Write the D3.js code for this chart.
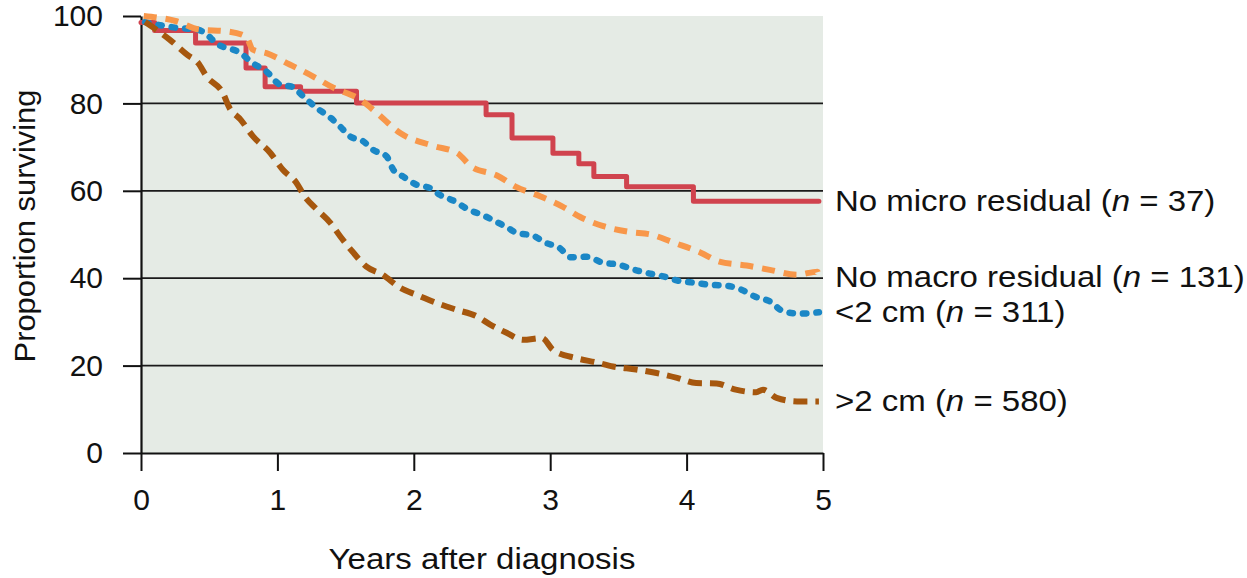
<!DOCTYPE html>
<html>

<head>
  <meta charset="utf-8">
  <title>Survival by residual disease</title>
  <script src="https://cdnjs.cloudflare.com/ajax/libs/d3/7.8.5/d3.min.js"></script>
  <style>
    body {
      margin: 0;
      background: #ffffff;
    }

    svg text {
      font-family: "Liberation Sans", Arial, Helvetica, sans-serif;
      fill: #111;
    }
  </style>
</head>

<body>
  <script>
    // --- data (years, % surviving) ---
    var microYears = [0, 0.10, 0.40, 0.77, 0.91, 1.17, 1.58, 2.53, 2.72, 3.02, 3.21, 3.32, 3.56, 4.05, 4.97];
    var microSurv = [98.5, 96.7, 93.8, 88.1, 83.8, 82.8, 80.1, 77.4, 72.1, 68.6, 66.2, 63.3, 60.9, 57.6, 57.6];

    var macroYears = [0.02, 0.26, 0.43, 0.63, 0.77, 0.82, 0.92, 1.09, 1.26, 1.41, 1.61, 1.73, 1.90, 2.14, 2.32, 2.42,
      2.61, 2.75, 2.93, 3.09, 3.22, 3.39, 3.58, 3.75, 3.90, 4.10, 4.24, 4.44, 4.61, 4.81, 4.96, 4.97];
    var macroSurv = [100, 98.8, 96.9, 96.5, 95.3, 92.3, 91.5, 88.9, 86.2, 83.6, 80.8, 77.8, 73.2, 70.3, 68.6, 65.6,
      63.5, 60.9, 58.7, 56.4, 54.0, 51.9, 50.6, 49.9, 48.2, 45.9, 43.8, 42.9, 41.9, 40.8, 41.5, 39.5];

    var smallYears = [0.03, 0.26, 0.41, 0.47, 0.55, 0.73, 0.82, 0.92, 1.02, 1.11, 1.19, 1.29, 1.39, 1.46, 1.53, 1.63,
      1.70, 1.80, 1.85, 1.92, 2.02, 2.12, 2.19, 2.30, 2.40, 2.50, 2.60, 2.69, 2.76, 2.87, 2.96, 3.07, 3.15, 3.27,
      3.38, 3.50, 3.62, 3.71, 3.83, 3.94, 4.05, 4.17, 4.29, 4.40, 4.50, 4.61, 4.71, 4.83, 4.97];
    var smallSurv = [98.6, 97.3, 96.9, 96.1, 93.8, 91.5, 89.2, 87.3, 84.3, 83.8, 81.6, 78.9, 76.7, 74.7, 72.5, 71.3,
      69.4, 67.9, 64.8, 63.3, 61.4, 60.6, 59.1, 57.6, 55.7, 54.5, 53.0, 51.5, 50.3, 49.8, 48.2, 46.9, 44.8, 44.9,
      43.6, 43.1, 41.9, 41.2, 40.4, 39.4, 39.0, 38.5, 38.3, 37.4, 35.8, 34.7, 32.4, 31.9, 32.2];

    var largeYears = [0.03, 0.21, 0.34, 0.42, 0.48, 0.60, 0.65, 0.73, 0.82, 0.95, 1.04, 1.14, 1.20, 1.29, 1.39, 1.46,
      1.55, 1.65, 1.77, 1.90, 2.02, 2.17, 2.31, 2.46, 2.56, 2.68, 2.80, 2.94, 3.02, 3.19, 3.34, 3.46, 3.63, 3.78,
      3.93, 4.07, 4.22, 4.36, 4.51, 4.56, 4.66, 4.81, 4.97];
    var largeSurv = [98.6, 94.6, 91.1, 89.2, 86.2, 82.4, 78.9, 76.3, 72.5, 68.6, 64.8, 61.8, 58.7, 55.7, 52.6, 49.6,
      46.1, 42.7, 40.8, 37.8, 36.2, 34.3, 32.8, 31.3, 29.4, 27.5, 25.9, 26.3, 23.6, 21.7, 20.7, 19.8, 19.1, 18.3,
      17.2, 16.0, 15.9, 14.5, 13.9, 14.5, 12.6, 11.8, 11.8];

    var xTicks = [0, 1, 2, 3, 4, 5];
    var yTicks = [0, 20, 40, 60, 80, 100];
    var gridValues = [20, 40, 60, 80];

    var seriesNames = ["No micro residual", "No macro residual", "<2 cm", ">2 cm"];
    var seriesN = [37, 131, 311, 580];
    var seriesColors = ["#d0434e", "#f8974a", "#1b87c6", "#a6570e"];

    //--------------------------------

    var W = 1247, H = 578;
    var x = d3.scaleLinear().domain([0, 5]).range([141, 823]);
    var y = d3.scaleLinear().domain([0, 100]).range([453, 16]);

    var svg = d3.select("body").append("svg")
      .attr("width", W)
      .attr("height", H);

    // plot background
    svg.append("rect")
      .attr("x", x(0))
      .attr("y", y(100))
      .attr("width", x(5) - x(0))
      .attr("height", y(0) - y(100))
      .attr("fill", "#e5ebe5");

    // horizontal grid
    svg.selectAll("line.grid").data(gridValues).enter().append("line")
      .attr("class", "grid")
      .attr("x1", x(0))
      .attr("x2", x(5))
      .attr("y1", function (d) { return y(d); })
      .attr("y2", function (d) { return y(d); })
      .attr("stroke", "#1a1a1a")
      .attr("stroke-width", 1.8);

    // axes
    var yAxis = svg.append("g")
      .attr("transform", "translate(" + x(0) + ",0)")
      .call(d3.axisLeft(y).tickValues(yTicks).tickFormat(d3.format("d"))
        .tickSize(18).tickSizeOuter(0).tickPadding(20));
    var xAxis = svg.append("g")
      .attr("transform", "translate(0," + y(0) + ")")
      .call(d3.axisBottom(x).tickValues(xTicks).tickFormat(d3.format("d"))
        .tickSize(18).tickSizeOuter(0).tickPadding(18));

    [xAxis, yAxis].forEach(function (g) {
      g.attr("font-size", 30).attr("font-family", null);
      g.select(".domain").attr("stroke", "#111").attr("stroke-width", 2.2);
      g.selectAll(".tick line").attr("stroke", "#111").attr("stroke-width", 2);
      g.selectAll(".tick text").attr("fill", "#111");
    });

    // axis titles (reference glyphs are a touch wider than Liberation Sans)
    svg.append("text")
      .attr("transform", "translate(482,569) scale(1.1,1)")
      .attr("text-anchor", "middle")
      .attr("font-size", 30)
      .text("Years after diagnosis");

    svg.append("text")
      .attr("transform", "translate(35,226) rotate(-90) scale(1.03,1)")
      .attr("text-anchor", "middle")
      .attr("font-size", 30)
      .text("Proportion surviving");

    // curves
    function pts(xs, ys) {
      return xs.map(function (d, i) { return [d, ys[i]]; });
    }

    var stepLine = d3.line()
      .x(function (d) { return x(d[0]); })
      .y(function (d) { return y(d[1]); })
      .curve(d3.curveStepAfter);

    var smoothLine = d3.line()
      .x(function (d) { return x(d[0]); })
      .y(function (d) { return y(d[1]); })
      .curve(d3.curveMonotoneX);

    var curves = svg.append("g");

    curves.append("path")
      .attr("d", stepLine(pts(microYears, microSurv)))
      .attr("fill", "none")
      .attr("stroke", seriesColors[0])
      .attr("stroke-width", 5)
      .attr("stroke-linecap", "round")
      .attr("stroke-linejoin", "round");

    curves.append("path")
      .attr("d", smoothLine(pts(smallYears, smallSurv)))
      .attr("fill", "none")
      .attr("stroke", seriesColors[2])
      .attr("stroke-width", 6.5)
      .attr("stroke-linecap", "round")
      .attr("stroke-dasharray", "3.5,10");

    curves.append("path")
      .attr("d", smoothLine(pts(largeYears, largeSurv)))
      .attr("fill", "none")
      .attr("stroke", seriesColors[3])
      .attr("stroke-width", 6)
      .attr("stroke-dasharray", "14,8");

    curves.append("path")
      .attr("d", smoothLine(pts(macroYears, macroSurv)))
      .attr("fill", "none")
      .attr("stroke", seriesColors[1])
      .attr("stroke-width", 6)
      .attr("stroke-dasharray", "13,9");

    // end labels
    var labelY = [211, 287, 322, 411];
    seriesNames.forEach(function (name, i) {
      var t = svg.append("text")
        .attr("transform", "translate(835," + labelY[i] + ") scale(1.1,1)")
        .attr("font-size", 30);
      t.append("tspan").text(name + " (");
      t.append("tspan").attr("font-style", "italic").text("n");
      t.append("tspan").text(" = " + seriesN[i] + ")");
    });
  </script>
</body>

</html>
